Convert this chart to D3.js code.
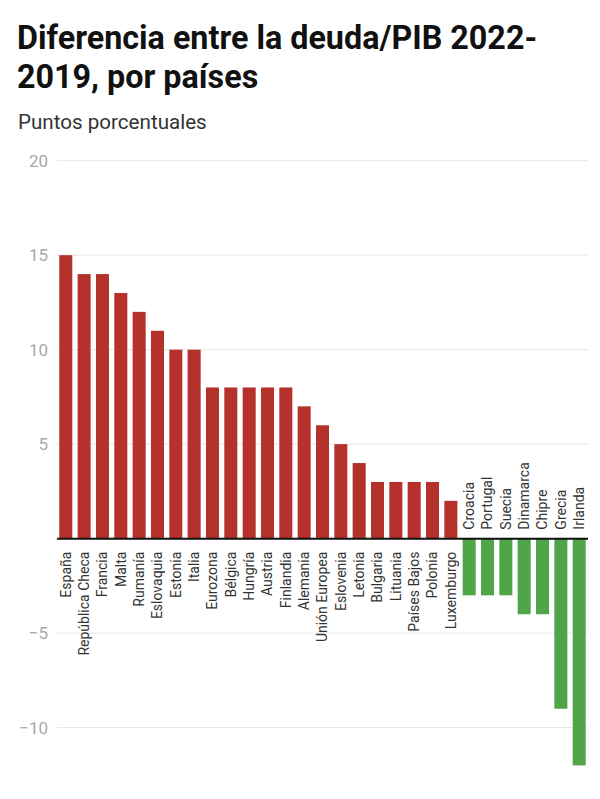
<!DOCTYPE html>
<html>
<head>
<meta charset="utf-8">
<script src="https://cdn.jsdelivr.net/npm/d3@7"></script>
<style>
  html, body { margin: 0; padding: 0; background: #fff; }
  svg { display: block; font-family: Roboto, "Noto Sans", sans-serif; }
</style>
</head>
<body>
<svg id="chart" width="600" height="799"></svg>
<script>
const categories = ["España","República Checa","Francia","Malta","Rumanía","Eslovaquia","Estonia","Italia","Eurozona","Bélgica","Hungría","Austria","Finlandia","Alemania","Unión Europea","Eslovenia","Letonia","Bulgaria","Lituania","Países Bajos","Polonia","Luxemburgo","Croacia","Portugal","Suecia","Dinamarca","Chipre","Grecia","Irlanda"];
const values = [15,14,14,13,12,11,10,10,8,8,8,8,8,7,6,5,4,3,3,3,3,2,-3,-3,-3,-4,-4,-9,-12];
const yTicks = [20,15,10,5,-5,-10];
const yDomain = [-12, 20];
const title = ["Diferencia entre la deuda/PIB 2022-", "2019, por países"];
const subtitle = "Puntos porcentuales";

const svg = d3.select("#chart");
const mLeft = 57, mRight = 588, mTop = 160.7, mBottom = 765.4;

const x = d3.scaleBand().domain(categories).range([mLeft, mRight]).paddingInner(0.29).paddingOuter(0.125);
const y = d3.scaleLinear().domain(yDomain).range([mBottom, mTop]);

// Title
svg.append("g").selectAll("text").data(title).join("text")
  .attr("x", 17).attr("y", (d, i) => 49 + i * 38.5)
  .attr("font-size", 32.3).attr("font-weight", 700).attr("fill", "#111")
  .text(d => d);
svg.append("text").attr("x", 18).attr("y", 128.5)
  .attr("font-size", 20.6).attr("fill", "#333").text(subtitle);

// Gridlines
svg.append("g").selectAll("line").data(yTicks).join("line")
  .attr("x1", mLeft).attr("x2", mRight)
  .attr("y1", d => y(d)).attr("y2", d => y(d))
  .attr("stroke", "#e6e6e6").attr("stroke-width", 1);

// Y axis labels
const fmt = d => (d < 0 ? "\u2212" + Math.abs(d) : String(d));
svg.append("g").selectAll("text").data(yTicks).join("text")
  .attr("x", 48).attr("y", d => y(d)).attr("dy", "0.35em")
  .attr("text-anchor", "end").attr("font-size", 17).attr("fill", "#a8a8a8")
  .text(fmt);

// Bars
const data = categories.map((c, i) => ({ c, v: values[i] }));
svg.append("g").selectAll("rect").data(data).join("rect")
  .attr("x", d => x(d.c)).attr("width", x.bandwidth())
  .attr("y", d => y(Math.max(0, d.v)))
  .attr("height", d => Math.abs(y(d.v) - y(0)))
  .attr("fill", d => d.v >= 0 ? "#b5312b" : "#4fa547");

// Zero line
svg.append("line").attr("x1", mLeft).attr("x2", mRight)
  .attr("y1", y(0)).attr("y2", y(0)).attr("stroke", "#111").attr("stroke-width", 2);

// Category labels
svg.append("g").selectAll("text").data(data).join("text")
  .attr("transform", d => {
    const cx = x(d.c) + x.bandwidth() / 2;
    const ty = d.v >= 0 ? y(0) + 13 : y(0) - 9;
    return `translate(${cx},${ty}) rotate(-90)`;
  })
  .attr("dy", "0.35em")
  .attr("text-anchor", d => d.v >= 0 ? "end" : "start")
  .attr("font-size", 14).attr("fill", "#333")
  .text(d => d.c);
</script>
</body>
</html>
